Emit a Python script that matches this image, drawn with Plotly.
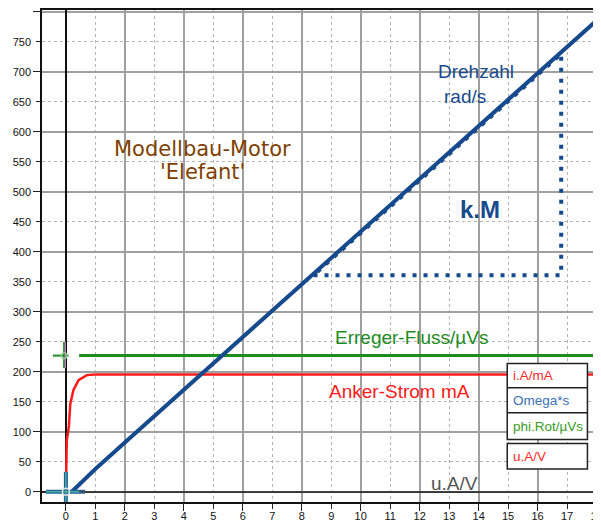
import plotly.graph_objects as go

# ---------------- data ----------------
omega_t = [0.2, 1, 2, 3, 4, 5, 6, 7, 8, 9, 10, 11, 12, 13, 14, 15, 16, 17, 18, 18.15]
omega_v = [0, 38, 82, 126, 170, 214, 258, 302, 346, 390, 434, 478, 522, 566, 610, 654, 698, 742, 786, 792]

strom_t = [0, 0.01, 0.03, 0.1, 0.15, 0.26, 0.43, 0.71, 1.0, 18.15]
strom_v = [0, 40, 86, 108, 147, 170, 186, 194.5, 195.6, 195.6]

fluss_t = [0.45, 18.15]
fluss_v = [227, 227]

ua_t = [0.45, 18.15]
ua_v = [0, 0]

# k.M slope triangle (dotted)
km_t = [8.4, 16.8, 16.8, 8.4]
km_v = [361, 361, 730, 361]

# cursor crosses
cur0_x = [-0.68, 0.65, None, 0, 0]
cur0_y = [0, 0, None, -17, 33]
curg_x = [-0.44, 0.09, None, -0.06, -0.06]
curg_y = [227, 227, None, 206, 250]
curp_x = [-0.02, -0.02]
curp_y = [206, 250]

legend_labels = ["i.A/mA", "Omega*s", "phi.Rot/µVs", "u.A/V"]
legend_colors = ["#ff2a2a", "#3a6fb5", "#3a9a22", "#ff2a2a"]

x_range = [-0.81, 18.15]
y_range = [-17, 803]

BLUE = "#174a8c"
RED = "#ff1a1a"
GREEN = "#1e8c1e"

fig = go.Figure()

# u.A/V trace on the overlay axes (same ranges) so the overlay grid is drawn
fig.add_trace(go.Scatter(x=ua_t, y=ua_v, mode="lines", xaxis="x2", yaxis="y2",
                         line=dict(color="#444444", width=1.5)))
fig.add_trace(go.Scatter(x=fluss_t, y=fluss_v, mode="lines", line=dict(color=GREEN, width=3)))
fig.add_trace(go.Scatter(x=strom_t, y=strom_v, mode="lines", line=dict(color=RED, width=2.5)))
fig.add_trace(go.Scatter(x=omega_t, y=omega_v, mode="lines", line=dict(color=BLUE, width=4)))
fig.add_trace(go.Scatter(x=km_t, y=km_v, mode="lines",
                         line=dict(color=BLUE, width=4, dash="4px,7px")))

# cursors
fig.add_trace(go.Scatter(x=cur0_x, y=cur0_y, mode="lines", line=dict(color="#2a5f9a", width=4)))
fig.add_trace(go.Scatter(x=cur0_x, y=cur0_y, mode="lines", line=dict(color="#3fb0a0", width=1.5)))
fig.add_trace(go.Scatter(x=[0], y=[0], mode="markers",
                         marker=dict(symbol="circle-open", size=7, color="#e0e0e0", line=dict(width=1.5))))
fig.add_trace(go.Scatter(x=curg_x, y=curg_y, mode="lines", line=dict(color=GREEN, width=2)))
fig.add_trace(go.Scatter(x=curp_x, y=curp_y, mode="lines", line=dict(color="#ff80ff", width=1)))
fig.add_trace(go.Scatter(x=[-0.06], y=[227], mode="markers",
                         marker=dict(symbol="circle-open", size=6, color="#9ad09a", line=dict(width=1.2))))

# legend-like boxes (data coordinates)
box_left, box_right = 14.97, 17.69
row_edges = [214, 173.3, 131.7, 87.3]
box2 = [80.7, 37.8]
shapes = []
shapes.append(dict(type="rect", xref="x", yref="y", x0=box_left, x1=box_right,
                   y0=row_edges[3], y1=row_edges[0], fillcolor="white",
                   line=dict(color="#222", width=1.5), layer="above"))
for e in row_edges[1:3]:
    shapes.append(dict(type="line", xref="x", yref="y", x0=box_left, x1=box_right,
                       y0=e, y1=e, line=dict(color="#222", width=1.5), layer="above"))
shapes.append(dict(type="rect", xref="x", yref="y", x0=box_left, x1=box_right,
                   y0=box2[1], y1=box2[0], fillcolor="white",
                   line=dict(color="#222", width=1.5), layer="above"))

annots = []
row_centers = [(row_edges[0] + row_edges[1]) / 2, (row_edges[1] + row_edges[2]) / 2,
               (row_edges[2] + row_edges[3]) / 2, (box2[0] + box2[1]) / 2]
for lab, col, yc in zip(legend_labels, legend_colors, row_centers):
    annots.append(dict(x=box_left + 0.12, y=yc, xref="x", yref="y", text=lab, showarrow=False,
                       xanchor="left", yanchor="middle",
                       font=dict(family="Liberation Sans, Arial", size=13.5, color=col)))

def txt(x, y, s, color, size, anchor="left", family="Liberation Sans, Arial"):
    annots.append(dict(x=x, y=y, xref="x", yref="y", text=s, showarrow=False,
                       xanchor=anchor, yanchor="middle",
                       font=dict(family=family, size=size, color=color)))

txt(4.65, 570.7, "Modellbau-Motor", "#7f3f00", 21, "center", "DejaVu Sans")
txt(4.64, 533.3, "'Elefant'", "#7f3f00", 21, "center", "DejaVu Sans")
txt(12.55, 700, "Drehzahl", BLUE, 19)
txt(12.75, 659.5, "rad/s", BLUE, 19)
txt(14.03, 471, "<b>k.M</b>", BLUE, 24, "center")
txt(9.07, 256.7, "Erreger-Fluss/µVs", GREEN, 19)
txt(8.85, 167.8, "Anker-Strom mA", RED, 19)
txt(12.33, 14, "u.A/V", "#555555", 19)

tickfont = dict(family="Liberation Sans, Arial", size=11, color="#111")

# page body has an 8px default margin: size figure so it fills the 601x523 window
fig.update_layout(
    width=593, height=515,
    margin=dict(l=34, r=0, t=2, b=21, autoexpand=False),
    paper_bgcolor="white", plot_bgcolor="white",
    showlegend=False, hovermode=False,
    shapes=shapes, annotations=annots,
    xaxis=dict(range=x_range, autorange=False, tick0=0, dtick=1, ticks="outside", ticklen=5,
               tickwidth=1.2, tickcolor="#222", tickfont=tickfont, ticklabelstandoff=-2,
               ticklabeloverflow="allow",
               showgrid=True, gridcolor="#b5b5b5", griddash="dot", gridwidth=1,
               zeroline=True, zerolinecolor="#111", zerolinewidth=1.5,
               showline=True, linecolor="#111", linewidth=1.5, mirror=True),
    xaxis2=dict(range=x_range, autorange=False, overlaying="x", anchor="y2", side="bottom",
                tick0=0, dtick=2, ticks="outside", ticklen=8, tickwidth=1.2, tickcolor="#222",
                showticklabels=False, showgrid=True, gridcolor="#a0a0a0", gridwidth=1.5,
                zeroline=False, showline=False),
    yaxis=dict(range=y_range, autorange=False, tick0=0, dtick=50, ticks="outside", ticklen=4,
               tickwidth=1.2, tickcolor="#222", tickfont=tickfont, ticklabelstandoff=3,
               showgrid=True, gridcolor="#b5b5b5", griddash="dot", gridwidth=1,
               zeroline=True, zerolinecolor="#222", zerolinewidth=1.5,
               showline=True, linecolor="#111", linewidth=1.5, mirror=True),
    yaxis2=dict(range=y_range, autorange=False, overlaying="y", anchor="x2", side="left",
                tick0=0, dtick=100, ticks="outside", ticklen=8, tickwidth=1.2, tickcolor="#222",
                showticklabels=False, showgrid=True, gridcolor="#a0a0a0", gridwidth=1.5,
                zeroline=False, showline=False),
)

fig.write_html("out.html")
